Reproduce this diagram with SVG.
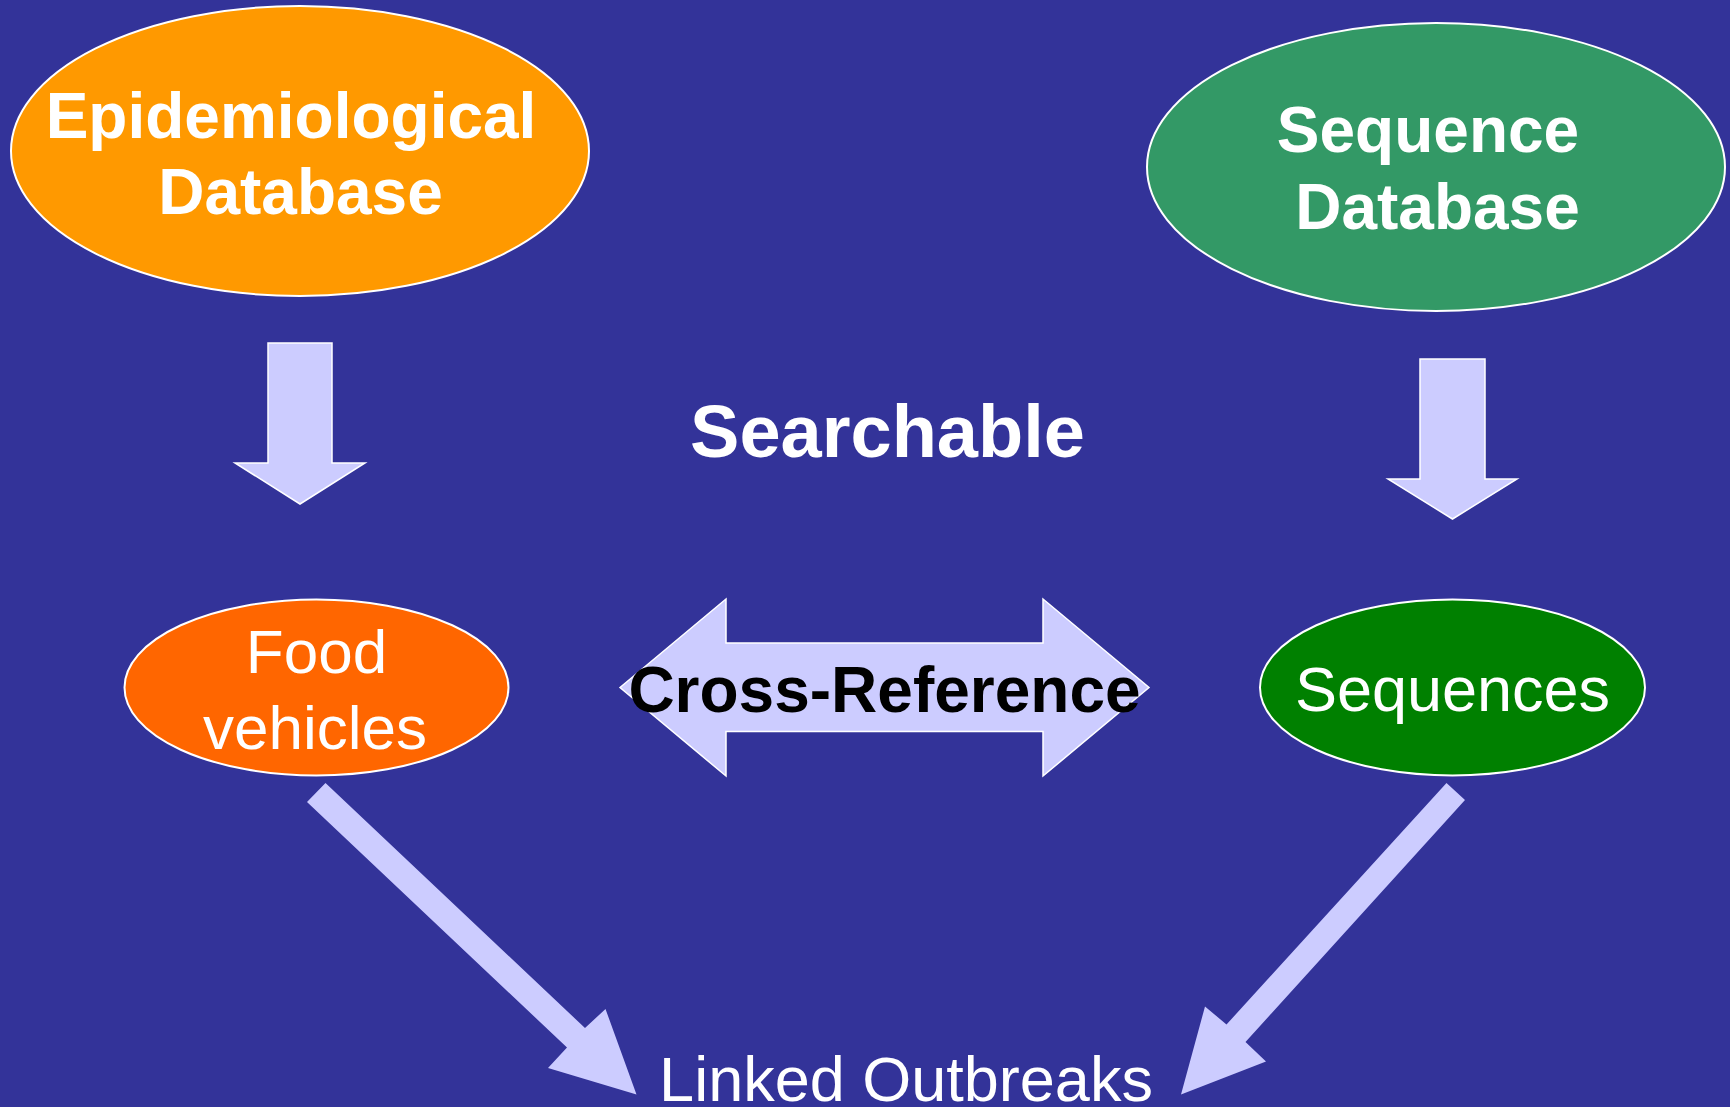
<svg xmlns="http://www.w3.org/2000/svg" width="1730" height="1107" viewBox="0 0 1730 1107">
<style>
.bold{font-family:"Liberation Sans",Arial,sans-serif;font-weight:bold;text-anchor:middle}
.reg{font-family:"Liberation Sans",Arial,sans-serif;text-anchor:middle}
.node{stroke:#FFFFFF;stroke-width:2}
.arrow{fill:#CCCCFF;stroke:#FFFFFF;stroke-width:1.5;stroke-linejoin:miter}
.diag{fill:#CCCCFF}
</style>
<rect width="1730" height="1107" fill="#333399"/>
<g id="connectors">
<polygon class="arrow" points="268,343 332,343 332,463 365,463 300,504 235,463 268,463"/>
<polygon class="arrow" points="1420,359 1485,359 1485,479 1517,479 1452.5,519 1388,479 1420,479"/>
<polygon class="arrow" points="620,687.5 726,599 726,643 1043,643 1043,599 1149,687.5 1043,776 1043,731.5 726,731.5 726,776"/>
<polygon class="diag" points="325.5,783 585,1028 605.5,1009 636.5,1094.5 548,1068 567,1047.5 307,802"/>
<polygon class="diag" points="1446.5,783 1465,800 1245.5,1042 1266,1061.5 1181,1094.5 1205,1006.5 1226.5,1024.5"/>
</g>
<g id="epi-db">
<ellipse class="node" cx="300" cy="151" rx="289" ry="145" fill="#FF9900"/>
<text class="bold" x="291" y="137.5" font-size="64" fill="#FFFFFF">Epidemiological</text>
<text class="bold" x="300.5" y="213.5" font-size="64" fill="#FFFFFF">Database</text>
</g>
<g id="seq-db">
<ellipse class="node" cx="1436" cy="167" rx="289" ry="144" fill="#339966"/>
<text class="bold" x="1428" y="152" font-size="64" fill="#FFFFFF">Sequence</text>
<text class="bold" x="1437.5" y="229" font-size="64" fill="#FFFFFF">Database</text>
</g>
<g id="searchable">
<text class="bold" x="887.5" y="457" font-size="74" fill="#FFFFFF">Searchable</text>
</g>
<g id="food">
<ellipse class="node" cx="316.5" cy="687.5" rx="192" ry="88" fill="#FF6600"/>
<text class="reg" x="316.5" y="673" font-size="62" fill="#FFFFFF">Food</text>
<text class="reg" x="315" y="749" font-size="62" fill="#FFFFFF">vehicles</text>
</g>
<g id="cross-ref">
<text class="bold" x="884.5" y="711.5" font-size="64" fill="#000000">Cross-Reference</text>
</g>
<g id="sequences">
<ellipse class="node" cx="1452.5" cy="687.5" rx="192.5" ry="88" fill="#008000"/>
<text class="reg" x="1452.5" y="711" font-size="63" fill="#FFFFFF">Sequences</text>
</g>
<g id="linked">
<text class="reg" x="906" y="1101" font-size="63" fill="#FFFFFF">Linked Outbreaks</text>
</g>
</svg>
